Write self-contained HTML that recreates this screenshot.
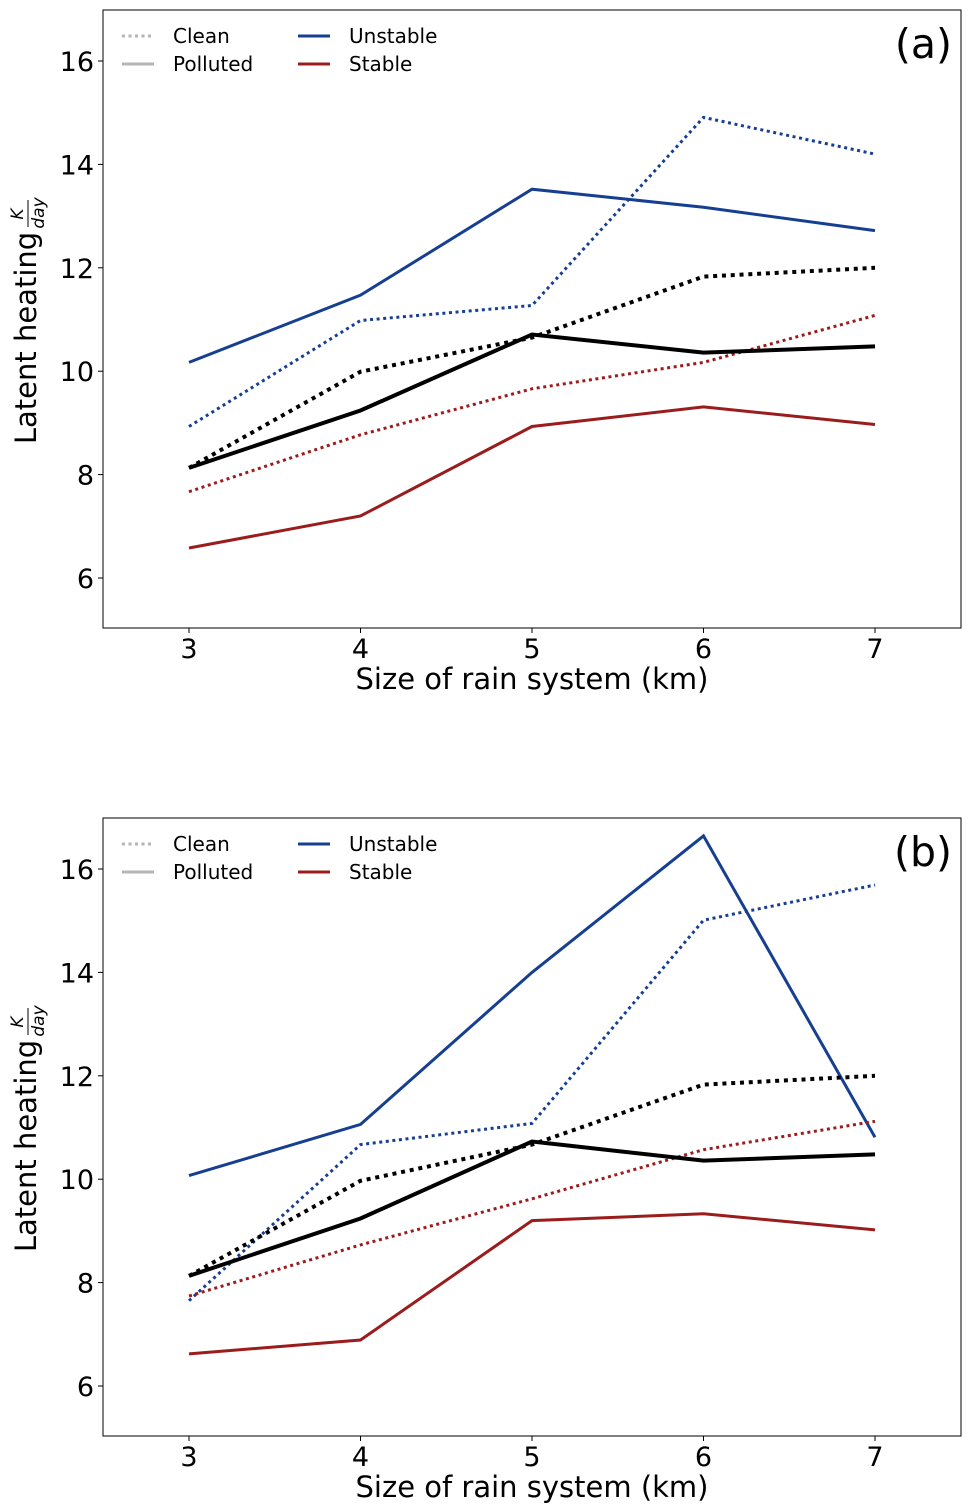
<!DOCTYPE html>
<html><head><meta charset="utf-8"><style>
body{margin:0;background:#fff;}
svg{display:block;font-family:"DejaVu Sans","Liberation Sans",sans-serif;}
</style></head><body>
<svg id="c" width="970" height="1512" viewBox="0 0 970 1512"></svg>
<script>
const sizes=[3,4,5,6,7];
const xTicks=[3,4,5,6,7];
const yTicks=[6,8,10,12,14,16];
const aUnstablePolluted=[10.17,11.47,13.52,13.17,12.72];
const aUnstableClean=[8.93,10.98,11.27,14.91,14.2];
const aMeanClean=[8.13,9.99,10.65,11.83,12.0];
const aMeanPolluted=[8.13,9.24,10.71,10.36,10.48];
const aStableClean=[7.67,8.77,9.66,10.17,11.08];
const aStablePolluted=[6.58,7.2,8.93,9.31,8.97];
const bUnstablePolluted=[10.07,11.06,14.0,16.64,10.81];
const bUnstableClean=[7.65,10.67,11.08,15.01,15.69];
const bMeanClean=[8.13,9.97,10.67,11.83,12.0];
const bMeanPolluted=[8.13,9.24,10.73,10.36,10.48];
const bStableClean=[7.74,8.73,9.62,10.57,11.12];
const bStablePolluted=[6.62,6.89,9.2,9.33,9.02];
const NS="http://www.w3.org/2000/svg";
const svg=document.getElementById('c');
const BLUE="#173f91",RED="#9b1c1c";
function mk(tag,attrs,parent){const e=document.createElementNS(NS,tag);for(const k in attrs)e.setAttribute(k,attrs[k]);(parent||svg).appendChild(e);return e;}
function panel(top,label,series,id){
  const g=mk('g',{});
  
  
  const L=103,R=961,T=top,B=top+618;
  const y0=top+568,py=51.7;
  const X=v=>189+(v-3)*171.5;
  const Y=v=>y0-(v-6)*py;
  const frame=mk('rect',{x:L,y:T,width:R-L,height:B-T,fill:'none',stroke:'#000','stroke-width':1},g);
  
  
  xTicks.forEach(t=>{
    mk('line',{x1:X(t),x2:X(t),y1:B,y2:B+5,stroke:'#000'},g);
    const tx=mk('text',{x:X(t),y:B+30,'font-size':27,'text-anchor':'middle'},g);
    tx.textContent=t;
    
    
  });
  yTicks.forEach(t=>{
    mk('line',{x1:L-5,x2:L,y1:Y(t),y2:Y(t),stroke:'#000'},g);
    const tx=mk('text',{x:L-9,y:Y(t)+10,'font-size':27,'text-anchor':'end'},g);
    tx.textContent=t;
    
    
  });
  const xl=mk('text',{x:532,y:B+61,'font-size':29,'text-anchor':'middle'},g);
  xl.textContent='Size of rain system (km)';
  
  
  const yl=mk('g',{transform:`translate(36,${top+318}) rotate(-90)`},g);
  
  
  const t1=mk('text',{x:-10,y:0,'font-size':29,'text-anchor':'middle'},yl);t1.textContent='Latent heating';
  const t2=mk('text',{x:114,y:-13,'font-size':17,'text-anchor':'middle','font-style':'italic'},yl);t2.textContent='K';
  mk('line',{x1:101,x2:128,y1:-8,y2:-8,stroke:'#000','stroke-width':1},yl);
  const t3=mk('text',{x:115,y:8,'font-size':17,'text-anchor':'middle','font-style':'italic'},yl);t3.textContent='day';
  series.forEach(s=>{
    const d=sizes.map((v,i)=>(i?'L':'M')+X(v).toFixed(1)+' '+Y(s.data[i]).toFixed(1)).join(' ');
    const p=mk('path',{d,fill:'none',stroke:s.c,'stroke-width':s.w,'stroke-dasharray':s.dot?(s.w*1+' '+s.w*1.2):'none'},g);
    
    
  });
  const lg=mk('g',{},g);
  
  
  const items=[[122,26,'#b5b5b5',true,'Clean'],[122,54,'#b5b5b5',false,'Polluted'],[298,26,BLUE,false,'Unstable'],[298,54,RED,false,'Stable']];
  items.forEach(it=>{
    mk('line',{x1:it[0],x2:it[0]+32,y1:top+it[1],y2:top+it[1],stroke:it[2],'stroke-width':3,'stroke-dasharray':it[3]?'3 3.5':'none'},lg);
    const tx=mk('text',{x:it[0]+51,y:top+it[1]+7,'font-size':20},lg);
    tx.textContent=it[4];
    
    
  });
  const pl=mk('text',{x:952,y:top+48,'font-size':41,'text-anchor':'end'},g);
  pl.textContent=label;
  
  
}
panel(10,'(a)',[
 {data:aUnstablePolluted,c:BLUE,w:3,dot:false,name:'unstable-polluted-line'},
 {data:aUnstableClean,c:BLUE,w:3,dot:true,name:'unstable-clean-line'},
 {data:aStableClean,c:RED,w:3,dot:true,name:'stable-clean-line'},
 {data:aStablePolluted,c:RED,w:3,dot:false,name:'stable-polluted-line'},
 {data:aMeanClean,c:'#000',w:4,dot:true,name:'mean-clean-line'},
 {data:aMeanPolluted,c:'#000',w:4,dot:false,name:'mean-polluted-line'}],'a');
panel(818,'(b)',[
 {data:bUnstablePolluted,c:BLUE,w:3,dot:false,name:'unstable-polluted-line'},
 {data:bUnstableClean,c:BLUE,w:3,dot:true,name:'unstable-clean-line'},
 {data:bStableClean,c:RED,w:3,dot:true,name:'stable-clean-line'},
 {data:bStablePolluted,c:RED,w:3,dot:false,name:'stable-polluted-line'},
 {data:bMeanClean,c:'#000',w:4,dot:true,name:'mean-clean-line'},
 {data:bMeanPolluted,c:'#000',w:4,dot:false,name:'mean-polluted-line'}],'b');
</script>
</body></html>
